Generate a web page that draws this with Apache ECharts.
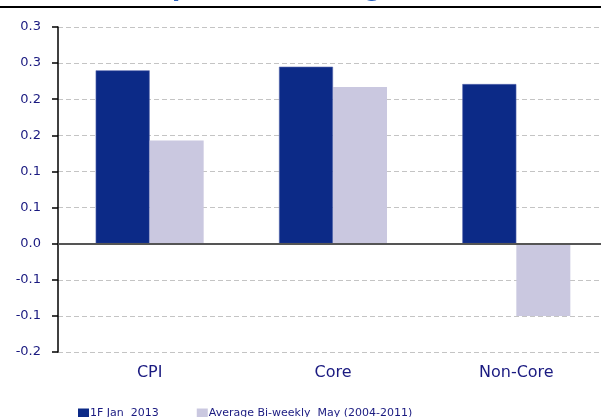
<!DOCTYPE html>
<html>
<head>
<meta charset="utf-8">
<style>html,body{margin:0;padding:0;background:#fff;overflow:hidden;width:601px;height:417px;}#c{width:608px;height:417px;}</style>
<script src="https://cdn.jsdelivr.net/npm/echarts@6/dist/echarts.min.js"></script>
</head>
<body>
<div id="c"></div>
<script>
var categories = ['CPI', 'Core', 'Non-Core'];
var seriesNames = ['1F Jan  2013', 'Average Bi-weekly  May (2004-2011)'];
var jan2013 = [0.240, 0.245, 0.221];
var avgMay = [0.143, 0.217, -0.100];
var tickLabels = ['-0.2', '-0.1', '-0.1', '0.0', '0.1', '0.1', '0.2', '0.2', '0.3', '0.3'];
var yMin = -0.15, yMax = 0.30, yStep = 0.05;

var chart = echarts.init(document.getElementById('c'), null, {renderer: 'canvas'});
var font = 'DejaVu Sans, Verdana, sans-serif';
chart.setOption({
  animation: false,
  backgroundColor: '#ffffff',
  textStyle: {fontFamily: font},
  graphic: [
    {type: 'text', x: 393, y: 2,
      style: {text: 'Headline CPI and components (% chg)', align: 'right', verticalAlign: 'bottom',
        font: 'bold 24px DejaVu Sans, Verdana, sans-serif', fill: '#2a62c0'}},
    {type: 'line', shape: {x1: 0, y1: 7, x2: 608, y2: 7}, style: {stroke: '#000', lineWidth: 2}}
  ],
  legend: {
    left: 78, top: 408, padding: 0, itemWidth: 11, itemHeight: 10, itemGap: 38,
    icon: 'rect',
    itemStyle: {borderWidth: 0},
    textStyle: {fontSize: 11, color: '#1a1a80', fontFamily: font, padding: [0, 0, 0, -4]},
    data: seriesNames
  },
  grid: {left: 58, top: 27, right: 0, bottom: 65, containLabel: false},
  xAxis: {
    type: 'category', data: categories,
    axisLine: {show: false, onZero: false},
    axisTick: {show: false},
    axisLabel: {fontSize: 16, color: '#1a1a80', margin: 13, fontFamily: font},
    splitLine: {show: false}
  },
  yAxis: {
    type: 'value', min: yMin, max: yMax, interval: yStep,
    axisLine: {show: true, lineStyle: {color: '#000', width: 1.5}},
    axisTick: {show: true, length: 6, lineStyle: {color: '#000', width: 1.5}},
    axisLabel: {fontSize: 13, color: '#1a1a80', margin: 17, fontFamily: font,
      formatter: function (v) { return tickLabels[Math.round((v - yMin) / yStep)]; }},
    splitLine: {show: true, lineStyle: {color: '#c4c4c4', type: [5, 3], width: 1}}
  },
  series: [
    {name: seriesNames[0], type: 'bar', data: jan2013, barWidth: 54, barGap: '0%',
      itemStyle: {color: '#0c2a87', borderColor: '#5567ad', borderWidth: 0.6},
      markLine: {silent: true, symbol: 'none', label: {show: false},
        lineStyle: {color: '#555555', type: 'solid', width: 2},
        data: [{yAxis: 0}]}},
    {name: seriesNames[1], type: 'bar', data: avgMay, barWidth: 54, barGap: '0%',
      itemStyle: {color: '#cac8e0'}}
  ]
});
</script>
</body>
</html>
